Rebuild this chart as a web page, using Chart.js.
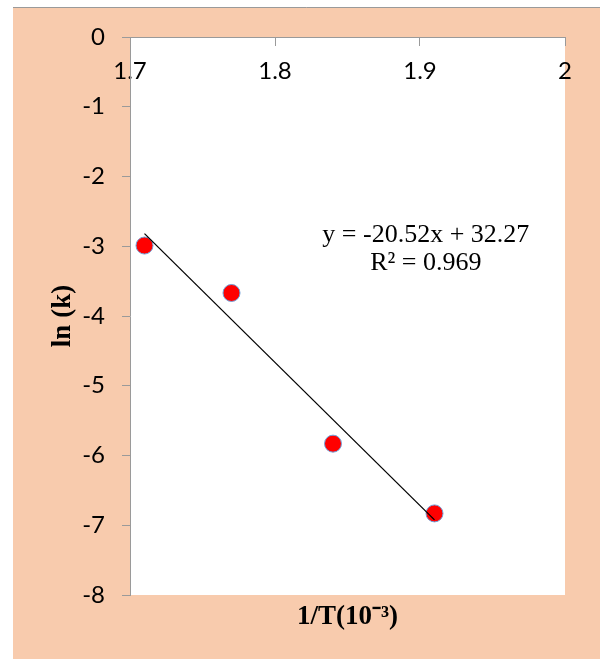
<!DOCTYPE html>
<html>
<head>
<meta charset="utf-8">
<script src="https://cdn.jsdelivr.net/npm/chart.js@4"></script>
<style>
  html, body { margin: 0; padding: 0; background: #fff; }
  canvas { display: block; }
</style>
</head>
<body>
<canvas id="myChart" width="600" height="659"></canvas>
<script>
// values
const invT = [1.71, 1.77, 1.84, 1.91];
const lnK = [-2.99, -3.67, -5.83, -6.83];
const xTicks = [1.7, 1.8, 1.9, 2];
const yTicks = [0, -1, -2, -3, -4, -5, -6, -7, -8];
const slope = -20.52;
const intercept = 32.27;
const rSquared = 0.969;

let points = invT.map((x, i) => ({ x: x, y: lnK[i] }));
let xMin = Math.min(...invT);
let xMax = Math.max(...invT);
let fitLine = [
  { x: xMin, y: slope * xMin + intercept },
  { x: xMax, y: slope * xMax + intercept }
];

const peach = '#F8CBAD';
const axisGrey = '#9a9a9a';
const tickFont = { family: 'Lato', size: 24 };
const titleFont = { family: 'Liberation Serif', size: 27, weight: 'bold' };

const background = {
  id: 'background',
  beforeDraw(chart) {
    const c = chart.ctx;
    const a = chart.chartArea;
    c.save();
    c.fillStyle = '#fff';
    c.fillRect(0, 0, chart.width, chart.height);
    c.fillStyle = peach;
    c.fillRect(13, 7, chart.width - 13, chart.height - 7);
    c.strokeStyle = axisGrey;
    c.lineWidth = 1;
    c.beginPath();
    c.moveTo(13, 7.5);
    c.lineTo(chart.width, 7.5);
    c.stroke();
    c.fillStyle = '#fff';
    c.fillRect(a.left, a.top, a.right - a.left, a.bottom - a.top);
    c.restore();
  }
};

const equation = {
  id: 'equation',
  afterDatasetsDraw(chart) {
    const c = chart.ctx;
    const xs = chart.scales.x;
    const ys = chart.scales.y;
    const cx = xs.getPixelForValue(1.904);
    c.save();
    c.fillStyle = '#000';
    c.font = '26px "Liberation Serif"';
    c.textAlign = 'center';
    c.textBaseline = 'middle';
    let sign = intercept < 0 ? '- ' : '+ ';
    c.fillText('y = ' + slope.toFixed(2) + 'x ' + sign + Math.abs(intercept).toFixed(2), cx, ys.getPixelForValue(-2.84));
    c.fillText('R\u00B2 = ' + rSquared.toFixed(3), cx, ys.getPixelForValue(-3.24));
    c.restore();
  }
};

let ctx = document.getElementById('myChart').getContext('2d');
let myGraph = new Chart(ctx, {
  type: 'scatter',
  data: {
    datasets: [
      {
        data: points,
        order: 1,
        backgroundColor: '#FF0000',
        borderColor: '#6FA0D8',
        borderWidth: 1,
        pointRadius: 8.5,
        pointHoverRadius: 8.5
      },
      {
        type: 'line',
        data: fitLine,
        order: 0,
        showLine: true,
        borderColor: '#000',
        borderWidth: 1.3,
        pointRadius: 0,
        fill: false
      }
    ]
  },
  options: {
    responsive: false,
    animation: false,
    devicePixelRatio: 1,
    layout: { padding: { left: 0, top: 37, right: 35, bottom: 0 } },
    plugins: {
      legend: { display: false },
      tooltip: { enabled: false }
    },
    scales: {
      x: {
        type: 'linear',
        position: { y: 0 },
        min: 1.7,
        max: 2,
        afterBuildTicks: (scale) => { scale.ticks = xTicks.map(v => ({ value: v })); },
        ticks: {
          font: tickFont,
          color: '#000',
          padding: 12,
          maxRotation: 0,
          callback: (v) => String(v)
        },
        grid: { display: true, drawOnChartArea: false, drawTicks: true, tickLength: 8, color: axisGrey },
        border: { display: true, color: axisGrey }
      },
      x2: {
        type: 'linear',
        axis: 'x',
        position: 'bottom',
        min: 1.7,
        max: 2,
        afterFit: (scale) => { scale.height = 64; },
        ticks: { display: false },
        grid: { display: false },
        border: { display: false },
        title: {
          display: true,
          text: '1/T(10\u207B\u00B3)',
          font: titleFont,
          color: '#000',
          padding: { top: 0, bottom: 26 }
        }
      },
      y: {
        type: 'linear',
        position: 'left',
        min: -8,
        max: 0,
        afterFit: (scale) => { scale.width = 130; },
        afterBuildTicks: (scale) => { scale.ticks = yTicks.map(v => ({ value: v })); },
        ticks: { font: tickFont, color: '#000', padding: 17 },
        grid: { display: true, drawOnChartArea: false, drawTicks: true, tickLength: 8, color: axisGrey },
        border: { display: true, color: axisGrey },
        title: {
          display: true,
          text: 'ln (k)',
          font: titleFont,
          color: '#000',
          padding: { top: 47, bottom: 0 }
        }
      }
    }
  },
  plugins: [background, equation]
});
</script>
</body>
</html>
